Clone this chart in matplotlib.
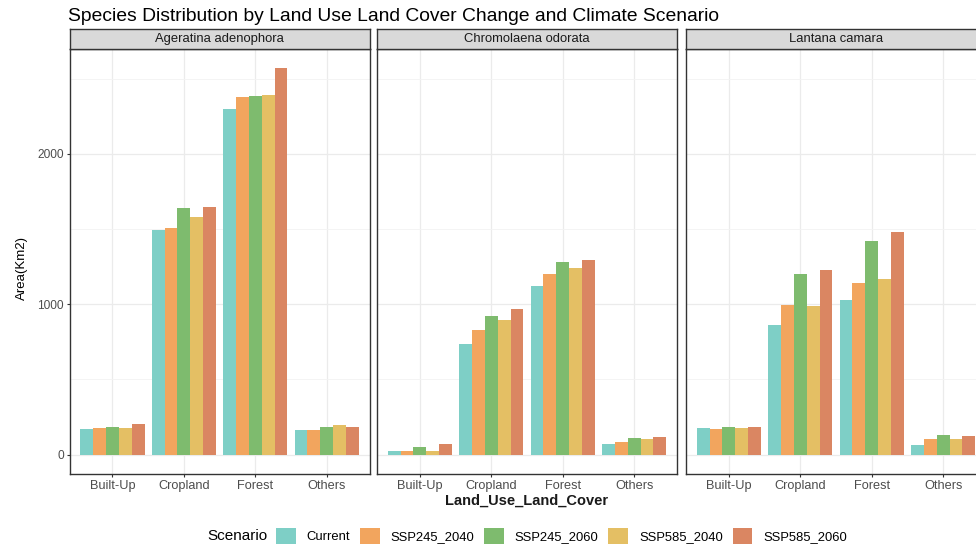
import matplotlib
matplotlib.use("Agg")
import matplotlib.pyplot as plt
from matplotlib.patches import Patch
import numpy as np

plt.rcParams['font.family'] = ['Liberation Sans', 'DejaVu Sans']

species = ["Ageratina adenophora", "Chromolaena odorata", "Lantana camara"]
land_cover = ["Built-Up", "Cropland", "Forest", "Others"]
scenarios = ["Current", "SSP245_2040", "SSP245_2060", "SSP585_2040", "SSP585_2060"]
colors = ["#7ECFC6", "#F2A55E", "#7EBB6E", "#E4BF64", "#DA8662"]

# values[species] -> rows = land cover, cols = scenarios
ageratina = [
    [170, 177, 181, 179, 203],
    [1492, 1505, 1642, 1580, 1646],
    [2298, 2376, 2384, 2391, 2568],
    [161, 161, 186, 194, 186],
]
chromolaena = [
    [22, 22, 49, 26, 73],
    [737, 826, 923, 898, 965],
    [1124, 1201, 1280, 1238, 1294],
    [68, 86, 110, 106, 115],
]
lantana = [
    [177, 172, 181, 177, 181],
    [865, 993, 1203, 985, 1225],
    [1031, 1139, 1422, 1166, 1483],
    [64, 104, 128, 101, 124],
]
data = [ageratina, chromolaena, lantana]

W, H = 976, 547
fig = plt.figure(figsize=(W / 100, H / 100), dpi=100)

panel_left = [69.5, 377.0, 686.0]
panel_w = 300.0
panel_top = 49.0
panel_bot = 474.0
strip_top = 28.5

ymax = max(max(max(r) for r in d) for d in data)
ylim = (-0.05 * ymax, 1.05 * ymax)

n_s = len(scenarios)
bw = 0.9 / n_s
xs = np.arange(1, len(land_cover) + 1)

for k, (sp, vals) in enumerate(zip(species, data)):
    ax = fig.add_axes([panel_left[k] / W, (H - panel_bot) / H,
                       panel_w / W, (panel_bot - panel_top) / H])
    ax.set_facecolor("white")
    vals = np.array(vals)
    for j in range(n_s):
        ax.bar(xs + (j - (n_s - 1) / 2) * bw, vals[:, j], width=bw,
               color=colors[j], edgecolor="none", zorder=3)
    ax.set_xlim(0.4, 4.6)
    ax.set_ylim(*ylim)
    ax.set_yticks([0, 1000, 2000])
    ax.set_yticks([500, 1500, 2500], minor=True)
    ax.set_xticks(xs)
    ax.set_xticklabels(land_cover)
    ax.grid(True, which="major", color="#EBEBEB", linewidth=0.9, zorder=0)
    ax.grid(True, which="minor", axis="y", color="#F3F3F3", linewidth=0.6, zorder=0)
    ax.tick_params(axis="both", which="major", length=2.3, width=0.8, color="#333333",
                   labelsize=9.2, labelcolor="#4D4D4D", pad=1.8)
    ax.tick_params(axis="y", which="major", labelsize=8.6)
    ax.tick_params(axis="both", which="minor", length=0)
    if k > 0:
        ax.tick_params(axis="y", which="major", length=0, labelleft=False)
    for s in ax.spines.values():
        s.set_color("#333333")
        s.set_linewidth(1.0)
    # strip
    sax = fig.add_axes([panel_left[k] / W, (H - panel_top) / H,
                        panel_w / W, (panel_top - strip_top) / H])
    sax.set_facecolor("#D9D9D9")
    sax.set_xticks([])
    sax.set_yticks([])
    for s in sax.spines.values():
        s.set_color("#333333")
        s.set_linewidth(1.0)
    sax.text(0.5, 0.5, sp, ha="center", va="center", fontsize=9.4,
             color="#1A1A1A", transform=sax.transAxes)

fig.text(68 / W, 1 - 16.5 / H, "Species Distribution by Land Use Land Cover Change and Climate Scenario",
         ha="left", va="center", fontsize=13.85, color="black")
fig.text(22 / W, 1 - 268 / H, "Area(Km2)", rotation=90, ha="center", va="center",
         fontsize=9.5, color="black")
fig.text(527 / W, 1 - 501 / H, "Land_Use_Land_Cover", ha="center", va="center",
         fontsize=10.5, fontweight="bold", color="#1A1A1A")

fig.text(207 / W, 1 - 536 / H, "Scenario", ha="left", va="center", fontsize=11, color="black")
handles = [Patch(facecolor=c, edgecolor="none") for c in colors]
fig.legend(handles, scenarios, loc="center left", bbox_to_anchor=(276 / W, 1 - 536 / H),
           ncol=5, frameon=False, fontsize=9.4, handlelength=1.5, handleheight=1.4,
           handletextpad=0.85, columnspacing=0.75, borderpad=0, borderaxespad=0,
           labelcolor="black")

fig.savefig("out.png", dpi=100)
